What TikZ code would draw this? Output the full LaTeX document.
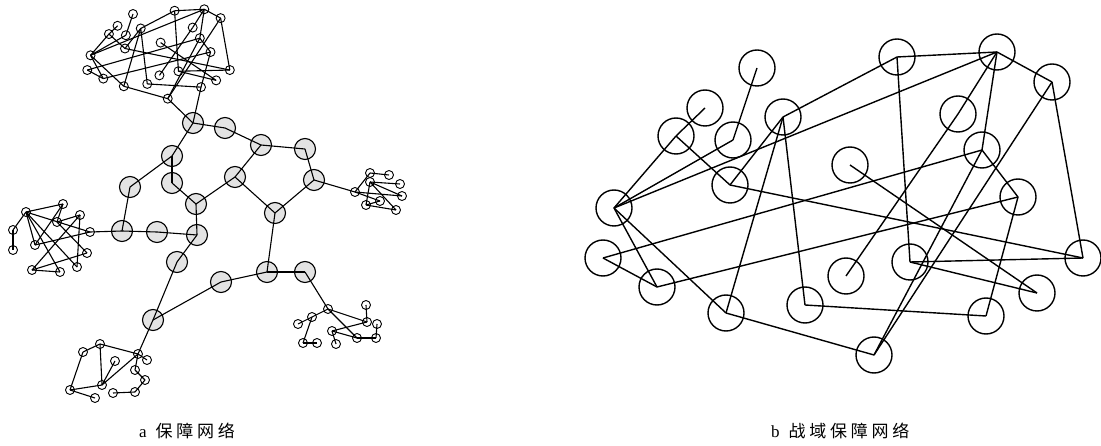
\documentclass[tikz,border=0pt]{standalone}
\usepackage{fontspec}
\newfontfamily\cjk[LetterSpace=22]{Noto Sans CJK SC}
\newfontfamily\latinserif{Liberation Serif}
\tikzset{
  bnode/.style={circle,draw,line width=1.4pt,minimum size=36pt,inner sep=0pt},
  tnode/.style={circle,draw,line width=0.9pt,minimum size=9pt,inner sep=0pt},
  gnode/.style={circle,draw,line width=1.1pt,fill=gray!22,minimum size=21pt,inner sep=0pt},
  bedge/.style={line width=1.4pt},
  aedge/.style={line width=1.1pt},
  captext/.style={font=\fontsize{17}{17}\selectfont,inner sep=0pt}
}
\newcommand\netedges[2]{%
  \foreach \p/\q in {1/4,2/3,3/7,3/5,4/7,5/6,5/24,6/9,6/17,6/18,7/10,7/16,7/17,8/21,9/10,9/20,10/11,10/13,10/12,12/19,11/23,11/24,13/14,13/15,13/23,14/16,14/22,15/16,17/23,18/22,20/21,20/24}
  {\draw[#2] (#1\p.center) -- (#1\q.center);}}
\begin{document}
\begin{tikzpicture}[x=1pt,y=-1pt]
\useasboundingbox (0,0) rectangle (1101,446);
% panel b and its scaled copy (top cluster of panel a)
\foreach \i/\x/\y in {1/757/68,2/705/108,3/676/136,4/733/140,5/730/185,6/783/117,7/614/208,8/850/165,9/897/57,10/997/52,11/1052/82,12/958/114,13/982/150,14/1018/197,15/603/258,16/657/287,17/726/313,18/805/305,19/846/276,20/910/262,21/1037/293,22/986/316,23/874/355,24/1083/258}
{
  \node[bnode] (b\i) at (\x,\y) {};
  \node[tnode] (t\i) at ({133+(\x-757)*0.297},{14+(\y-68)*0.295}) {};
}
\netedges{b}{bedge}
\netedges{t}{aedge}
% gray backbone nodes
\foreach \i/\x/\y in {1/193/123,2/225/128,3/261/145,4/305/149,5/314/180,6/172/156,7/235/177,8/172/183,9/130/187,10/196/204,11/275/213,12/122/231,13/157/232,14/197/235,15/177/262,16/267/272,17/305/272,18/221/282,19/153/320}
  \node[gnode] (g\i) at (\x,\y) {};
% right cluster
\foreach \i/\x/\y in {1/370/173,2/389/175,3/400/184,4/355/192,5/370/182,6/380/201,7/366/205,8/396/210,9/402/196}
  \node[tnode] (rc\i) at (\x,\y) {};
% left cluster
\foreach \i/\x/\y in {1/26/212,2/63/204,3/80/215,4/90/232,5/57/222,6/13/230,7/13/250,8/35/245,9/87/253,10/77/267,11/32/270,12/60/272}
  \node[tnode] (lc\i) at (\x,\y) {};
% bottom-right cluster
\foreach \i/\x/\y in {1/328/309,2/312/317,3/298/324,4/366/305,5/367/322,6/377/324,7/332/331,8/303/343,9/317/343,10/336/344,11/357/338,12/376/338}
  \node[tnode] (br\i) at (\x,\y) {};
% bottom-left cluster
\foreach \i/\x/\y in {1/100/344,2/83/352,3/115/361,4/138/354,5/147/360,6/135/370,7/145/380,8/70/390,9/102/385,10/95/398,11/113/393,12/135/392}
  \node[tnode] (bl\i) at (\x,\y) {};
% edges of panel a
\foreach \p/\q in {g1/g2,g2/g3,g3/g4,g4/g5,g3/g7,g5/g11,g7/g11,g7/g10,g1/g6,g6/g9,g6/g8,g8/g10,g10/g14,g9/g12,g12/g13,g13/g14,g14/g15,g15/g19,g19/g18,g18/g16,g16/g17,g16/g11,
  g1/t22,g1/t23,g5/rc4,g12/lc4,g17/br1,g19/bl4,
  rc4/rc1,rc4/rc9,rc4/rc6,rc5/rc7,rc5/rc8,rc7/rc8,rc5/rc3,rc1/rc2,rc6/rc7,rc5/rc9,
  lc1/lc2,lc1/lc6,lc1/lc8,lc1/lc10,lc1/lc12,lc1/lc4,lc2/lc8,lc3/lc11,lc3/lc10,lc5/lc9,lc4/lc8,lc6/lc7,lc11/lc12,lc11/lc9,lc5/lc3,lc2/lc5,
  br1/br2,br1/br5,br1/br11,br2/br3,br2/br8,br8/br9,br7/br5,br7/br10,br7/br11,br11/br12,br12/br6,br4/br5,
  bl1/bl2,bl1/bl9,bl1/bl4,bl2/bl8,bl8/bl9,bl8/bl10,bl9/bl4,bl9/bl3,bl4/bl6,bl4/bl5,bl7/bl12,bl11/bl12,bl6/bl7}
  \draw[aedge] (\p.center) -- (\q.center);
% captions
\node[captext,anchor=west] (capa) at (139,431) {{\latinserif a}\hspace{9pt}{\cjk 保障网络}};
\node[captext,anchor=west] (capb) at (771,431) {{\latinserif b}\hspace{9pt}{\cjk 战域保障网络}};
\end{tikzpicture}
\end{document}
